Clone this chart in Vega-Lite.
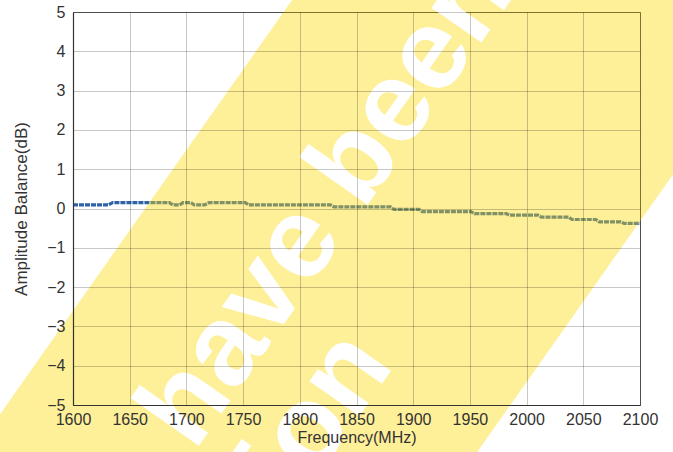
{
  "$schema": "https://vega.github.io/schema/vega-lite/v6.json",
  "width": 567,
  "height": 393,
  "autosize": "none",
  "padding": {"left": 73, "top": 12, "right": 33, "bottom": 47},
  "background": "white",
  "config": {
    "view": {"stroke": "#666", "strokeWidth": 1},
    "axis": {
      "labelFont": "Liberation Sans",
      "labelFontSize": 16,
      "labelColor": "#333",
      "titleFont": "Liberation Sans",
      "titleFontSize": 16,
      "titleFontWeight": "normal",
      "titleColor": "#333",
      "ticks": false,
      "gridColor": "#000000",
      "gridWidth": 1,
      "gridOpacity": 0.22,
      "domainColor": "#333",
      "domainWidth": 1.2
    }
  },
  "datasets": {
    "balance": [
      {"freq": 1600, "db": 0.09},
      {"freq": 1631, "db": 0.09},
      {"freq": 1635, "db": 0.15},
      {"freq": 1685, "db": 0.15},
      {"freq": 1688, "db": 0.09},
      {"freq": 1694, "db": 0.09},
      {"freq": 1697, "db": 0.15},
      {"freq": 1704, "db": 0.15},
      {"freq": 1707, "db": 0.09},
      {"freq": 1716, "db": 0.09},
      {"freq": 1720, "db": 0.15},
      {"freq": 1752, "db": 0.15},
      {"freq": 1755, "db": 0.09},
      {"freq": 1827, "db": 0.09},
      {"freq": 1830, "db": 0.04},
      {"freq": 1880, "db": 0.04},
      {"freq": 1883, "db": -0.02},
      {"freq": 1905, "db": -0.02},
      {"freq": 1908, "db": -0.08},
      {"freq": 1951, "db": -0.08},
      {"freq": 1954, "db": -0.13},
      {"freq": 1982, "db": -0.13},
      {"freq": 1985, "db": -0.17},
      {"freq": 2010, "db": -0.17},
      {"freq": 2013, "db": -0.22},
      {"freq": 2037, "db": -0.22},
      {"freq": 2040, "db": -0.28},
      {"freq": 2061, "db": -0.28},
      {"freq": 2064, "db": -0.34},
      {"freq": 2083, "db": -0.34},
      {"freq": 2086, "db": -0.38},
      {"freq": 2100, "db": -0.38}
    ],
    "band": [
      {"freq": 1509.2, "db": -6.32, "hi": -24.5},
      {"freq": 2152.9, "db": 20.03, "hi": 1.84}
    ],
    "mark1": [{"freq": 1707, "db": -6.2, "label": "have been"}],
    "mark2": [{"freq": 1884, "db": -3.98, "label": "for publication"}]
  },
  "encoding": {
    "x": {
      "field": "freq", "type": "quantitative",
      "scale": {"domain": [1600, 2100], "nice": false, "zero": false},
      "axis": {"values": [1600,1650,1700,1750,1800,1850,1900,1950,2000,2050,2100], "format": "d", "title": "Frequency(MHz)", "labelPadding": 6, "titlePadding": 2, "labelFlush": false, "zindex": 2}
    },
    "y": {
      "field": "db", "type": "quantitative",
      "scale": {"domain": [-5, 5], "nice": false, "zero": false},
      "axis": {"values": [-5,-4,-3,-2,-1,0,1,2,3,4,5], "format": "d", "title": "Amplitude Balance(dB)", "titleFontSize": 17, "labelPadding": 8, "titlePadding": 16, "labelFlush": false, "zindex": 2}
    }
  },
  "layer": [
    {
      "data": {"name": "balance"},
      "mark": {"type": "line", "color": "#2E63A8", "strokeWidth": 3.2, "strokeDash": [5, 1], "clip": true}
    },
    {
      "data": {"name": "band"},
      "mark": {"type": "area", "color": "#FCD700", "opacity": 0.4, "clip": false, "interpolate": "linear"},
      "encoding": {
        "y2": {"field": "hi"}
      }
    },
    {
      "data": {"name": "mark1"},
      "mark": {"type": "text", "align": "left", "baseline": "alphabetic", "angle": -55, "font": "Liberation Sans", "fontWeight": "bold", "fontSize": 115, "color": "#ffffff", "opacity": 1},
      "encoding": {
        "text": {"field": "label"}
      }
    },
    {
      "data": {"name": "mark2"},
      "mark": {"type": "text", "align": "right", "baseline": "alphabetic", "angle": -55, "font": "Liberation Sans", "fontWeight": "bold", "fontSize": 115, "color": "#ffffff", "opacity": 1},
      "encoding": {
        "text": {"field": "label"}
      }
    }
  ]
}
